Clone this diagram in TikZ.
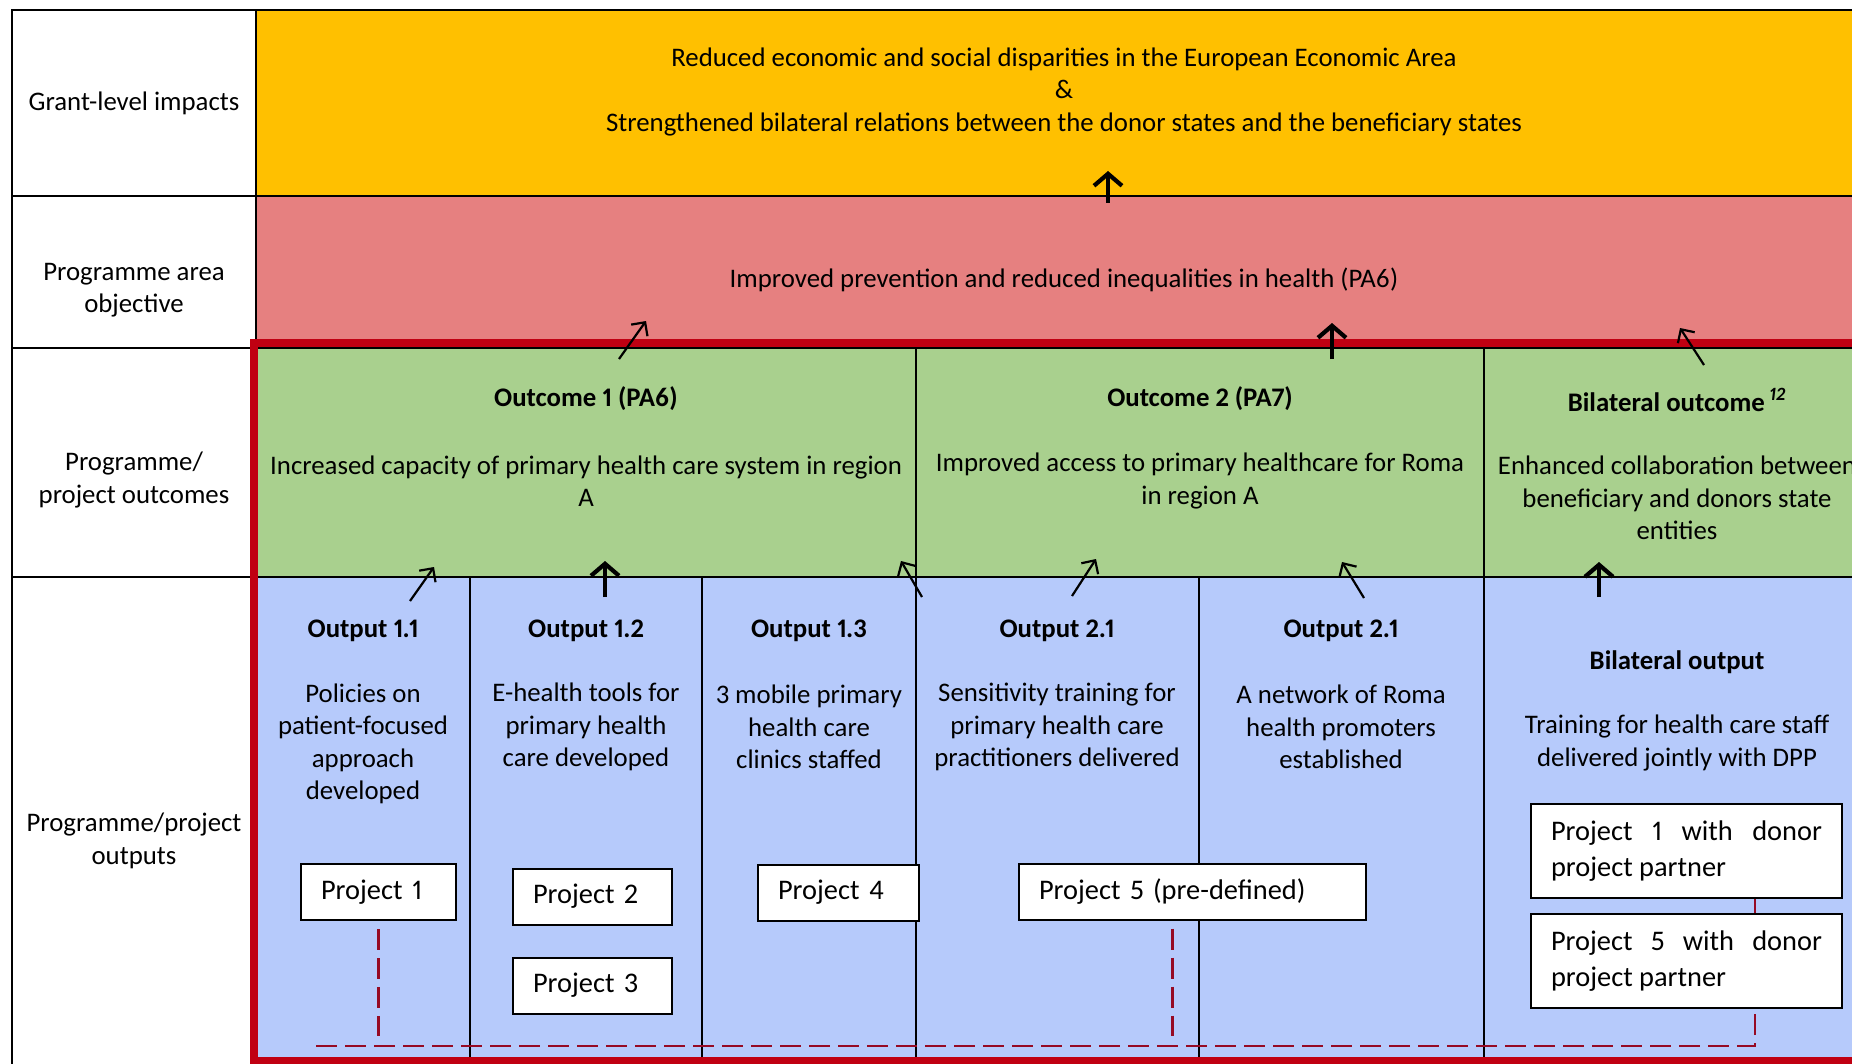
\documentclass[tikz,border=0pt]{standalone}
\usepackage{fontspec}
\setmainfont{Carlito}[Numbers=Proportional]
\usetikzlibrary{positioning,arrows.meta}
\definecolor{impactc}{HTML}{FFC000}
\definecolor{objc}{HTML}{E68080}
\definecolor{outcc}{HTML}{A9D08E}
\definecolor{outpc}{HTML}{B6CAFB}
\definecolor{framec}{HTML}{C00012}
\definecolor{dashc}{HTML}{960A24}

\begin{document}
\begin{tikzpicture}[x=0.5pt, y=-0.5pt,
    txt/.style={align=center, inner sep=0pt, font=\fontsize{13.4}{16.25}\selectfont},
    ttl/.style={txt, font=\fontsize{13.4}{16.25}\selectfont\bfseries},
    gridline/.style={line width=0.8pt},
    frame/.style={framec, line width=4pt},
    proj/.style={draw, fill=white, line width=1pt, inner xsep=10pt, inner ysep=0pt, minimum height=28pt, align=left, font=\fontsize{14.2}{18.3}\selectfont},
    arr/.style={-{Straight Barb[length=5pt,width=10pt]}, line width=1.1pt},
    bigarr/.style={-{Straight Barb[length=6pt,width=14pt]}, line width=2.1pt},
    link/.style={dashc, line width=1.2pt, dash pattern=on 10.5pt off 4pt}]
    \useasboundingbox (0,0) rectangle (1852,1064);
    \clip (0,0) rectangle (1852,1064);
    \fill[impactc] (256,10) rectangle (1852,196);
    \fill[objc] (256,196) rectangle (1852,348);
    \fill[outcc] (256,348) rectangle (1852,577);
    \fill[outpc] (256,577) rectangle (1852,1064);
    \draw[gridline] (1852,10) -- (12,10) -- (12,1064) (256,10) -- (256,1064);
    \draw[gridline] (12,196) -- (1852,196) (12,348) -- (1852,348) (12,577) -- (1852,577);
    \draw[gridline] (916,348) -- (916,1064) (1484,348) -- (1484,1064);
    \draw[gridline] (470,577) -- (470,1064) (702,577) -- (702,1064) (1199,577) -- (1199,1064);
    \draw[frame] (1860,343) -- (254,343) -- (254,1061) -- (1860,1061);

    \node[txt] (lblImpact) at (134,103) {Grant-level impacts};
    \node[txt] (lblObjective) at (134,290) {Programme area\\objective};
    \node[txt] (lblOutcomes) at (134,480) {Programme/\\project outcomes};
    \node[txt] (lblOutputs) at (134,841) {Programme/project\\outputs};

    \node[txt] (impact) at (1064,92) {Reduced economic and social disparities in the European Economic Area\\\&\\Strengthened bilateral relations between the donor states and the beneficiary states};
    \node[txt] (objective) at (1064,280) {Improved prevention and reduced inequalities in health (PA6)};

    \node[ttl] (oc1) at (586,399) {Outcome 1 (PA6)};
    \node[txt] (oc1txt) at (586,481) {Increased capacity of primary health care system in region\\A};
    \node[ttl] (oc2) at (1200,399) {Outcome 2 (PA7)};
    \node[txt] (oc2txt) at (1200,481) {Improved access to primary healthcare for Roma\\in region A};
    \node[ttl] (bilOc) at (1677,400) {Bilateral outcome\,\textsuperscript{\itshape 12}};
    \node[txt] (bilOctxt) at (1677,498) {Enhanced collaboration between\\beneficiary and donors state\\entities};

    \node[ttl] (out11) at (363,631) {Output 1.1};
    \node[txt] (out11txt) at (363,744) {Policies on\\patient-focused\\approach\\developed};
    \node[ttl] (out12) at (586,631) {Output 1.2};
    \node[txt] (out12txt) at (586,727) {E-health tools for\\primary health\\care developed};
    \node[ttl] (out13) at (809,631) {Output 1.3};
    \node[txt] (out13txt) at (809,727) {3 mobile primary\\health care\\clinics staffed};
    \node[ttl] (out21) at (1057,631) {Output 2.1};
    \node[txt] (out21txt) at (1057,727) {Sensitivity training for\\primary health care\\practitioners delivered};
    \node[ttl] (out22) at (1341,631) {Output 2.1};
    \node[txt] (out22txt) at (1341,727) {A network of Roma\\health promoters\\established};
    \node[ttl] (bilOut) at (1677,662) {Bilateral output};
    \node[txt] (bilOuttxt) at (1677,743) {Training for health care staff\\delivered jointly with DPP};

    \coordinate (dashL) at (316,1046);
    \coordinate (dashR) at (1755,1046);
    \node[proj, text width=57.5pt] (p1) at (378.5,892) {Project 1};
    \node[proj, text width=59.5pt] (p2) at (592.5,896.5) {Project 2};
    \node[proj, text width=59.5pt, below=15.5pt of p2] (p3) {Project 3};
    \node[proj, text width=60.5pt] (p4) at (838.5,892.5) {Project 4};
    \node[proj, text width=153.5pt] (p5) at (1192.5,891.5) {Project 5 (pre-defined)};
    \node[proj, text width=135.5pt, minimum height=47pt, align=justify] (bilA) at (1686.5,851) {Project 1 with donor project partner};
    \node[proj, text width=135.5pt, minimum height=47pt, align=justify, below=7pt of bilA] (bilB) {Project 5 with donor project partner};
    \draw[link] (dashL) -- (dashR) -- (bilB.south -| dashR) (bilB.north -| dashR) -- (bilA.south -| dashR);
    \draw[link] ([yshift=-4pt]p1.south) -- ([yshift=5pt]p1.south |- dashL);
    \draw[link] ([xshift=-10pt, yshift=-4pt]p5.south) -- ([xshift=-10pt, yshift=5pt]p5.south |- dashL);

    \coordinate (t0) at (1108,203); \coordinate (h0) at (1108,171);
    \coordinate (t1) at (619,359); \coordinate (h1) at (646,321);
    \coordinate (t2) at (1332,359); \coordinate (h2) at (1332,323);
    \coordinate (t3) at (1704,365); \coordinate (h3) at (1680,328);
    \coordinate (t4) at (410,601); \coordinate (h4) at (434,567);
    \coordinate (t5) at (605,597); \coordinate (h5) at (605,561);
    \coordinate (t6) at (922,597); \coordinate (h6) at (901,561);
    \coordinate (t7) at (1072,596); \coordinate (h7) at (1096,559);
    \coordinate (t8) at (1364,598); \coordinate (h8) at (1342,562);
    \coordinate (t9) at (1599,597); \coordinate (h9) at (1599,562);
    \draw[bigarr] (t0) -- (h0);
    \draw[bigarr] (t2) -- (h2);
    \draw[bigarr] (t5) -- (h5);
    \draw[bigarr] (t9) -- (h9);
    \draw[arr] (t1) -- (h1);
    \draw[arr] (t3) -- (h3);
    \draw[arr] (t4) -- (h4);
    \draw[arr] (t6) -- (h6);
    \draw[arr] (t7) -- (h7);
    \draw[arr] (t8) -- (h8);
\end{tikzpicture}
\end{document}
